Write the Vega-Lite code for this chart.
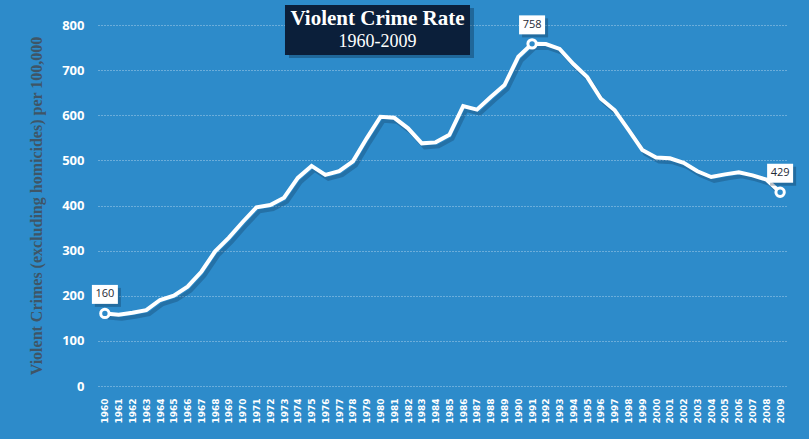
{
  "$schema": "https://vega.github.io/schema/vega-lite/v6.json",
  "width": 689,
  "height": 361,
  "autosize": {"type": "none"},
  "padding": {"left": 98, "top": 25, "right": 22, "bottom": 53},
  "background": "#2D8BCA",
  "config": {"view": {"stroke": null}},
  "datasets": {
    "crime": [
      {"year": "1960", "rate": 160.9}, {"year": "1961", "rate": 158.1}, {"year": "1962", "rate": 162.3},
      {"year": "1963", "rate": 168.2}, {"year": "1964", "rate": 190.6}, {"year": "1965", "rate": 200.2},
      {"year": "1966", "rate": 220.0}, {"year": "1967", "rate": 253.2}, {"year": "1968", "rate": 298.4},
      {"year": "1969", "rate": 328.7}, {"year": "1970", "rate": 363.5}, {"year": "1971", "rate": 396.0},
      {"year": "1972", "rate": 401.0}, {"year": "1973", "rate": 417.4}, {"year": "1974", "rate": 461.1},
      {"year": "1975", "rate": 487.8}, {"year": "1976", "rate": 467.8}, {"year": "1977", "rate": 475.9},
      {"year": "1978", "rate": 497.8}, {"year": "1979", "rate": 548.9}, {"year": "1980", "rate": 596.6},
      {"year": "1981", "rate": 594.3}, {"year": "1982", "rate": 571.1}, {"year": "1983", "rate": 537.7},
      {"year": "1984", "rate": 539.9}, {"year": "1985", "rate": 556.6}, {"year": "1986", "rate": 620.1},
      {"year": "1987", "rate": 612.5}, {"year": "1988", "rate": 640.6}, {"year": "1989", "rate": 666.9},
      {"year": "1990", "rate": 729.6}, {"year": "1991", "rate": 758.2}, {"year": "1992", "rate": 757.7},
      {"year": "1993", "rate": 747.1}, {"year": "1994", "rate": 713.6}, {"year": "1995", "rate": 684.5},
      {"year": "1996", "rate": 636.6}, {"year": "1997", "rate": 611.0}, {"year": "1998", "rate": 567.6},
      {"year": "1999", "rate": 523.0}, {"year": "2000", "rate": 506.5}, {"year": "2001", "rate": 504.5},
      {"year": "2002", "rate": 494.4}, {"year": "2003", "rate": 475.8}, {"year": "2004", "rate": 463.2},
      {"year": "2005", "rate": 469.0}, {"year": "2006", "rate": 473.6}, {"year": "2007", "rate": 466.9},
      {"year": "2008", "rate": 457.5}, {"year": "2009", "rate": 429.4}
    ],
    "labels": [
      {"year": "1960", "rate": 160.9, "label": "160"},
      {"year": "1991", "rate": 758.2, "label": "758"},
      {"year": "2009", "rate": 429.4, "label": "429"}
    ],
    "heading": [
      {"year": "1980", "rate": 789, "line1": "Violent Crime Rate", "line2": "1960-2009"}
    ]
  },
  "data": {"name": "crime"},
  "encoding": {
    "x": {
      "field": "year", "type": "ordinal",
      "scale": {"type": "point", "padding": 0.5},
      "axis": {
        "title": null, "labelAngle": -90, "labelColor": "white", "labelFont": "DejaVu Sans",
        "labelFontWeight": "bold", "labelFontSize": 9, "labelPadding": 12, "ticks": false,
        "domain": false, "grid": false
      }
    },
    "y": {
      "field": "rate", "type": "quantitative",
      "scale": {"domain": [0, 800]},
      "axis": {
        "title": "Violent Crimes (excluding homicides) per 100,000",
        "titleFont": "Liberation Serif", "titleFontSize": 16, "titleFontWeight": "bold",
        "titleColor": "#3F5566", "titlePadding": 17,
        "labelColor": "white", "labelFont": "Open Sans", "labelFontWeight": "bold", "labelFontSize": 13,
        "labelPadding": 14, "ticks": false, "domain": false, "tickCount": 8,
        "grid": true, "gridColor": "white", "gridOpacity": 0.6, "gridDash": [1, 2], "gridWidth": 1
      }
    }
  },
  "layer": [
    {"mark": {"type": "line", "color": "#0A2540", "opacity": 0.25, "strokeWidth": 4, "xOffset": 3, "yOffset": 4}},
    {"mark": {"type": "line", "color": "white", "strokeWidth": 4}},
    {
      "data": {"name": "labels"},
      "mark": {"type": "point", "filled": true, "fill": "#2D8BCA", "stroke": "white", "strokeWidth": 3, "size": 70, "opacity": 1}
    },
    {
      "data": {"name": "labels"},
      "mark": {"type": "point", "shape": "M-1,-0.73L1,-0.73L1,0.73L-1,0.73Z", "size": 676, "filled": true, "fill": "#0A2540", "opacity": 0.3, "yOffset": -16, "xOffset": 3}
    },
    {
      "data": {"name": "labels"},
      "mark": {"type": "point", "shape": "M-1,-0.73L1,-0.73L1,0.73L-1,0.73Z", "size": 676, "filled": true, "fill": "white", "opacity": 1, "yOffset": -19}
    },
    {
      "data": {"name": "labels"},
      "mark": {"type": "text", "font": "Open Sans", "fontSize": 11, "color": "#1E2A36", "yOffset": -19, "baseline": "middle"},
      "encoding": {"text": {"field": "label"}}
    },
    {
      "data": {"name": "heading"},
      "mark": {"type": "point", "shape": "M-1,-0.27L1,-0.27L1,0.27L-1,0.27Z", "size": 34225, "filled": true, "fill": "#0A2540", "opacity": 0.35, "xOffset": 1, "yOffset": 3}
    },
    {
      "data": {"name": "heading"},
      "mark": {"type": "point", "shape": "M-1,-0.27L1,-0.27L1,0.27L-1,0.27Z", "size": 34225, "filled": true, "fill": "#0B1F3A", "opacity": 1, "xOffset": -3}
    },
    {
      "data": {"name": "heading"},
      "mark": {"type": "text", "font": "Liberation Serif", "fontSize": 21, "fontWeight": "bold", "color": "white", "xOffset": -3, "yOffset": -11, "baseline": "middle"},
      "encoding": {"text": {"field": "line1"}}
    },
    {
      "data": {"name": "heading"},
      "mark": {"type": "text", "font": "Liberation Serif", "fontSize": 18, "color": "white", "xOffset": -3, "yOffset": 12, "baseline": "middle"},
      "encoding": {"text": {"field": "line2"}}
    }
  ]
}
